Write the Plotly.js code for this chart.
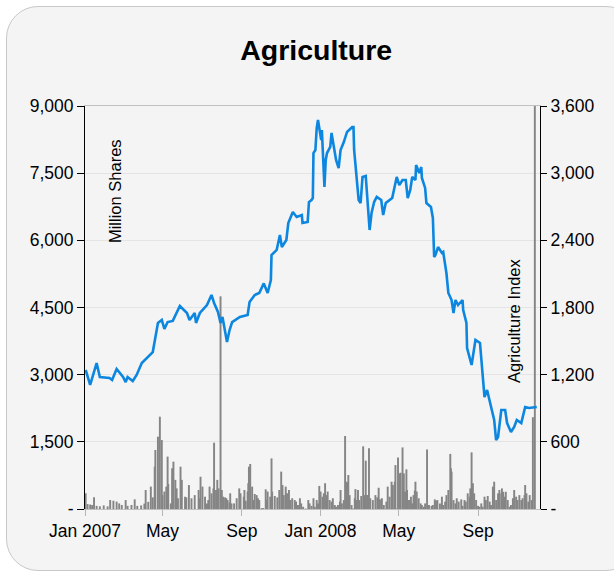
<!DOCTYPE html>
<html>
<head>
<meta charset="utf-8">
<script src="https://cdn.plot.ly/plotly-3.0.1.min.js"></script>
<style>
  html, body { margin: 0; padding: 0; background: #ffffff; }
  #panel { position: absolute; left: 6px; top: 6px; width: 630px; height: 563px;
           background: #f4f4f4; border: 1px solid #c8c8c8; border-radius: 32px; }
  #chart { position: absolute; left: 0; top: 0; width: 614px; height: 574px; }
</style>
</head>
<body>
<div id="panel"></div>
<div id="chart"></div>
<script>
// ---- Data ----
const titleText = "Agriculture";
const leftAxisTitle = "Million Shares";
const rightAxisTitle = "Agriculture Index";

const xTickVals = ["2007-01-01","2007-05-01","2007-09-01","2008-01-01","2008-05-01","2008-09-01"];
const xTickText = ["Jan 2007","May","Sep","Jan 2008","May","Sep"];

const volTickVals = [0,1500,3000,4500,6000,7500,9000];
const volTickText = ["-","1,500","3,000","4,500","6,000","7,500","9,000"];
const idxTickVals = [0,600,1200,1800,2400,3000,3600];
const idxTickText = ["-","600","1,200","1,800","2,400","3,000","3,600"];

const volDates = [
"2007-01-02","2007-01-05","2007-01-09","2007-01-12","2007-01-15","2007-01-19","2007-01-24","2007-01-30",
"2007-02-05","2007-02-09","2007-02-14","2007-02-19","2007-02-23","2007-02-27","2007-03-05","2007-03-08",
"2007-03-14","2007-03-19","2007-03-23","2007-03-29","2007-04-03","2007-04-05","2007-04-09","2007-04-13",
"2007-04-16","2007-04-19","2007-04-20","2007-04-24","2007-04-27","2007-04-30","2007-05-01","2007-05-04",
"2007-05-07","2007-05-09","2007-05-10","2007-05-14","2007-05-16","2007-05-17","2007-05-18","2007-05-21",
"2007-05-23","2007-05-25","2007-05-29","2007-05-31","2007-06-05","2007-06-07","2007-06-11","2007-06-15",
"2007-06-20","2007-06-26","2007-06-28","2007-06-29","2007-07-02","2007-07-06","2007-07-09","2007-07-11",
"2007-07-13","2007-07-16","2007-07-19","2007-07-20","2007-07-23","2007-07-25","2007-07-27","2007-07-30",
"2007-08-01","2007-08-03","2007-08-06","2007-08-08","2007-08-10","2007-08-13","2007-08-14","2007-08-16",
"2007-08-20","2007-08-24","2007-08-28","2007-08-30","2007-09-04","2007-09-05","2007-09-07","2007-09-10",
"2007-09-11","2007-09-12","2007-09-14","2007-09-17","2007-09-19","2007-09-21","2007-09-24","2007-09-26",
"2007-09-28","2007-10-02","2007-10-04","2007-10-08","2007-10-09","2007-10-11","2007-10-15","2007-10-17",
"2007-10-18","2007-10-22","2007-10-26","2007-10-29","2007-11-01","2007-11-03","2007-11-05","2007-11-08",
"2007-11-10","2007-11-13","2007-11-15","2007-11-18","2007-11-22","2007-11-24","2007-11-27","2007-11-30",
"2007-12-02","2007-12-05","2007-12-09","2007-12-13","2007-12-15","2007-12-18","2007-12-21","2007-12-23",
"2007-12-26","2007-12-28","2007-12-30",
"2008-01-01","2008-01-04","2008-01-06","2008-01-08","2008-01-10","2008-01-12","2008-01-15","2008-01-18",
"2008-01-20","2008-01-23","2008-01-25","2008-01-28","2008-01-31","2008-02-01","2008-02-03","2008-02-06",
"2008-02-08","2008-02-10","2008-02-11","2008-02-13","2008-02-15","2008-02-18","2008-02-20","2008-02-23",
"2008-02-24","2008-02-26","2008-02-28","2008-03-01","2008-03-04","2008-03-07","2008-03-09","2008-03-11",
"2008-03-13","2008-03-16","2008-03-18","2008-03-22","2008-03-26","2008-03-29","2008-03-31","2008-04-02",
"2008-04-05","2008-04-08","2008-04-12","2008-04-14","2008-04-17","2008-04-20","2008-04-22","2008-04-25",
"2008-04-26","2008-04-28","2008-04-30","2008-05-03","2008-05-04","2008-05-07","2008-05-09","2008-05-11",
"2008-05-13","2008-05-14","2008-05-17","2008-05-20","2008-05-22","2008-05-24","2008-05-26","2008-05-27",
"2008-05-29","2008-06-01","2008-06-04","2008-06-06","2008-06-09","2008-06-11","2008-06-14","2008-06-17",
"2008-06-21","2008-06-23","2008-06-26","2008-06-28","2008-06-30","2008-07-04","2008-07-07","2008-07-09",
"2008-07-12","2008-07-14","2008-07-17","2008-07-20","2008-07-21","2008-07-22","2008-07-25","2008-07-28",
"2008-07-30","2008-08-02","2008-08-06","2008-08-08","2008-08-11","2008-08-13","2008-08-16","2008-08-19",
"2008-08-20","2008-08-22","2008-08-24","2008-08-26","2008-08-29","2008-09-01","2008-09-03","2008-09-06",
"2008-09-08","2008-09-11","2008-09-13","2008-09-16","2008-09-19","2008-09-21","2008-09-24","2008-09-26",
"2008-09-29","2008-10-02","2008-10-04","2008-10-07","2008-10-08","2008-10-10","2008-10-12","2008-10-14",
"2008-10-17","2008-10-20","2008-10-22","2008-10-25","2008-10-27","2008-10-30","2008-11-01","2008-11-04",
"2008-11-07","2008-11-09","2008-11-12","2008-11-13","2008-11-15","2008-11-18","2008-11-20","2008-11-23",
"2008-11-25","2008-11-28"
];
const volValues = [
350,110,100,90,260,70,60,80,
60,200,185,165,125,90,200,70,
90,215,70,80,120,425,160,500,
260,945,1318,1615,2062,1540,310,390,
500,1170,560,125,910,720,1057,650,
460,240,945,650,275,260,535,240,
310,425,240,720,500,275,125,200,
500,350,460,1480,425,650,460,4750,
425,275,260,240,200,140,350,125,
125,240,460,350,275,425,185,390,
575,945,1005,500,200,335,310,240,
200,20,20,440,200,390,275,1130,
390,290,260,425,835,535,310,500,
350,425,200,240,200,165,90,240,
125,50,10,200,125,70,240,50,
200,125,515,
390,275,350,575,310,390,200,165,
240,90,50,90,165,425,125,200,
1630,610,590,760,310,90,10,240,
445,200,425,200,290,1400,310,1080,
310,1355,240,200,310,260,475,215,
240,90,165,500,275,610,535,610,
980,10,1150,795,810,1375,795,390,
885,425,200,275,125,310,410,610,
390,240,125,90,50,125,1330,90,
70,90,215,185,200,125,275,90,
165,310,425,1230,910,835,200,125,
240,165,215,70,200,165,350,275,
460,1265,575,350,200,70,50,125,
50,275,200,290,165,90,500,610,
200,350,425,350,460,385,275,385,
200,50,90,240,425,275,200,310,
200,240,310,535,350,165,310,200,
2050,9500
];

const idxDates = [
"2007-01-02","2007-01-09","2007-01-19","2007-01-24","2007-02-08","2007-02-12","2007-02-19","2007-03-01",
"2007-03-05","2007-03-08","2007-03-16","2007-03-22","2007-03-30","2007-04-11","2007-04-16","2007-04-24",
"2007-04-30","2007-05-04","2007-05-09","2007-05-17","2007-05-28","2007-06-08","2007-06-12","2007-06-20",
"2007-06-22","2007-06-28","2007-07-09","2007-07-16","2007-07-20","2007-07-26","2007-07-30","2007-08-02",
"2007-08-09","2007-08-13","2007-08-17","2007-08-29","2007-09-10","2007-09-13","2007-09-21","2007-09-28",
"2007-10-02","2007-10-05","2007-10-11","2007-10-16","2007-10-17","2007-10-25","2007-10-30","2007-11-02",
"2007-11-09","2007-11-12","2007-11-19","2007-11-25","2007-12-03","2007-12-04","2007-12-12","2007-12-14",
"2007-12-18","2007-12-20","2007-12-21","2007-12-24","2007-12-26","2007-12-27","2007-12-28",
"2008-01-02","2008-01-03","2008-01-07","2008-01-09","2008-01-11","2008-01-16","2008-01-18","2008-01-22",
"2008-01-25","2008-01-29","2008-02-01","2008-02-06","2008-02-11","2008-02-19","2008-02-21","2008-02-22",
"2008-02-26","2008-02-29","2008-03-03","2008-03-06","2008-03-11","2008-03-14","2008-03-17","2008-03-20",
"2008-03-24","2008-03-28","2008-04-04","2008-04-07","2008-04-11","2008-04-21","2008-04-24","2008-04-28",
"2008-05-02","2008-05-07","2008-05-12","2008-05-15","2008-05-19","2008-05-22","2008-05-27","2008-05-28",
"2008-06-02","2008-06-05","2008-06-06","2008-06-11","2008-06-13","2008-06-20","2008-06-23","2008-06-25",
"2008-06-27","2008-07-01","2008-07-07","2008-07-09","2008-07-14","2008-07-17","2008-07-22","2008-07-25",
"2008-07-28","2008-08-01","2008-08-08","2008-08-09","2008-08-14","2008-08-15","2008-08-22","2008-08-28",
"2008-09-04","2008-09-08","2008-09-11","2008-09-15","2008-09-22","2008-09-26","2008-09-29","2008-10-02",
"2008-10-07","2008-10-13","2008-10-16","2008-10-22","2008-10-27","2008-10-31","2008-11-07","2008-11-13",
"2008-11-19","2008-12-01"
];
const idxValues = [
1242,1108,1304,1179,1170,1152,1251,1179,
1134,1179,1143,1197,1304,1376,1402,1662,
1688,1608,1670,1680,1813,1751,1688,1751,
1662,1751,1822,1912,1840,1760,1662,1715,
1492,1599,1670,1715,1733,1849,1912,1930,
1983,2015,1930,2046,2269,2314,2448,2340,
2403,2555,2653,2608,2626,2555,2564,2742,
2760,2778,3180,3207,3403,3430,3475,
3296,3386,2876,3118,3180,3234,3359,3207,
3118,3046,3207,3278,3368,3412,3412,3207,
2966,2760,2733,2966,2975,2760,2492,2644,
2742,2787,2760,2626,2733,2778,2850,2966,
2894,2939,2939,2778,2850,2966,2939,3073,
3001,3055,2957,2868,2733,2698,2600,2251,
2269,2340,2287,2296,2108,1930,1867,1751,
1867,1822,1867,1778,1662,1438,1286,1510,
1483,1215,1000,1063,902,795,616,643,
884,884,768,688,733,795,768,911,
902,911
];

// ---- Chart ----
const FONT = "Liberation Sans, Arial, sans-serif";
const DAY_MS = 86400000;

const volumeTrace = {
  type: "bar", x: volDates, y: volValues, yaxis: "y",
  width: 3 * DAY_MS,
  marker: { color: "#858585", line: { width: 0 } },
  hoverinfo: "skip", showlegend: false
};
const indexTrace = {
  type: "scatter", mode: "lines", x: idxDates, y: idxValues, yaxis: "y2",
  line: { color: "#0d86e0", width: 2.6 },
  hoverinfo: "skip", showlegend: false
};

const layout = {
  width: 614, height: 574,
  margin: { l: 85, r: 74, t: 106, b: 65, pad: 0 },
  paper_bgcolor: "rgba(0,0,0,0)",
  plot_bgcolor: "rgba(0,0,0,0)",
  font: { family: FONT, size: 17.5, color: "#000" },
  title: { text: "<b>" + titleText + "</b>", font: { family: FONT, size: 28.5, color: "#000" },
           x: 0.515, xanchor: "center", y: 0.912, yanchor: "middle" },
  showlegend: false,
  xaxis: {
    type: "date", range: ["2007-01-01", "2008-12-06"],
    tickmode: "array", tickvals: xTickVals, ticktext: xTickText,
    ticks: "outside", ticklen: 6, tickcolor: "#b5b5b5", tickwidth: 1,
    showline: true, linecolor: "#c0c0c0", linewidth: 1, mirror: true,
    showgrid: false, zeroline: false,
    tickfont: { family: FONT, size: 17.5, color: "#000" }
  },
  yaxis: {
    range: [0, 9000], tickmode: "array", tickvals: volTickVals, ticktext: volTickText,
    ticks: "outside", ticklen: 7, tickcolor: "#000", tickwidth: 1,
    showline: true, linecolor: "#000", linewidth: 1,
    showgrid: true, gridcolor: "#e4e4e4", gridwidth: 1, zeroline: false,
    tickfont: { family: FONT, size: 17.5, color: "#000" }
  },
  yaxis2: {
    range: [0, 3600], overlaying: "y", side: "right",
    tickmode: "array", tickvals: idxTickVals, ticktext: idxTickText,
    ticks: "outside", ticklen: 6, tickcolor: "#000", tickwidth: 1,
    showline: true, linecolor: "#000", linewidth: 1,
    showgrid: false, zeroline: false,
    tickfont: { family: FONT, size: 17.5, color: "#000" }
  },
  annotations: [
    { text: leftAxisTitle, xref: "paper", yref: "paper", x: 0.066, y: 0.789,
      xanchor: "center", yanchor: "middle", textangle: -90, showarrow: false,
      font: { family: FONT, size: 16.5, color: "#000" } },
    { text: rightAxisTitle, xref: "paper", yref: "paper", x: 0.943, y: 0.4665,
      xanchor: "center", yanchor: "middle", textangle: -90, showarrow: false,
      font: { family: FONT, size: 16.5, color: "#000" } }
  ]
};

Plotly.newPlot("chart", [volumeTrace, indexTrace], layout, { displayModeBar: false, staticPlot: true });
</script>
</body>
</html>
